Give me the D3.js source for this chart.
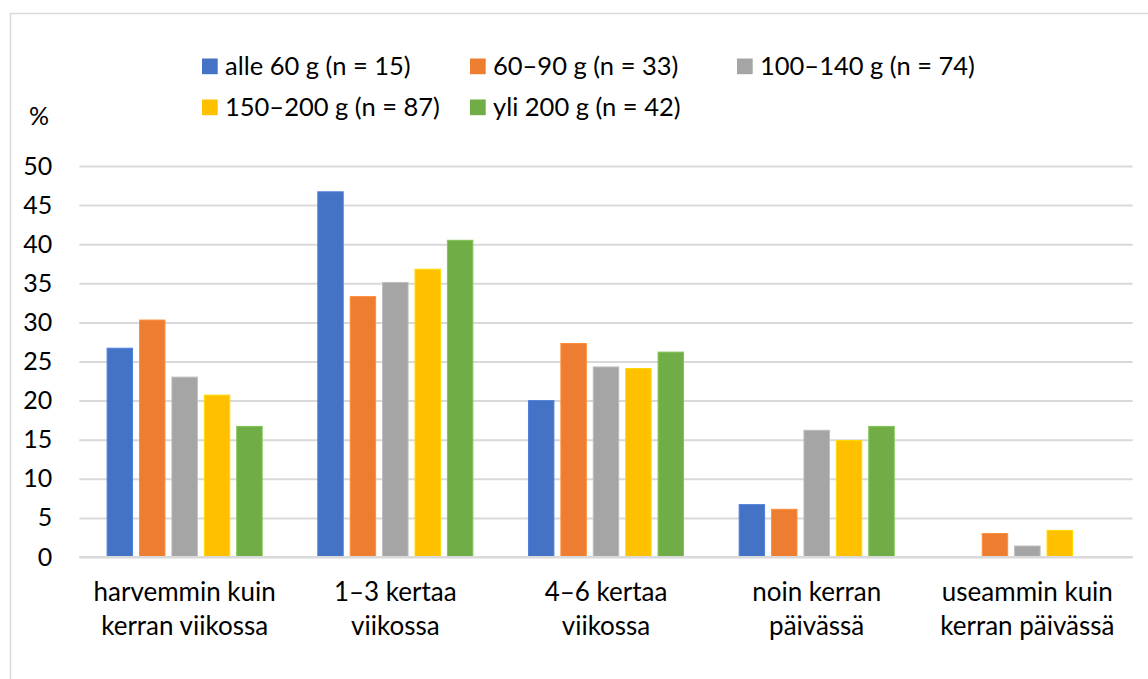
<!DOCTYPE html>
<html>
<head>
<meta charset="utf-8">
<script src="https://cdn.jsdelivr.net/npm/d3@7"></script>
<style>
  html, body { margin: 0; padding: 0; background: #fff; }
  svg { display: block; }
  text { font-family: Lato, "Open Sans", sans-serif; fill: #000; }
</style>
</head>
<body>
<svg id="chart" width="1148" height="679"></svg>
<script>
// Frequency categories (x axis), each label split over two lines
const categories = [
  ["harvemmin kuin", "kerran viikossa"],
  ["1–3 kertaa", "viikossa"],
  ["4–6 kertaa", "viikossa"],
  ["noin kerran", "päivässä"],
  ["useammin kuin", "kerran päivässä"]
];

// Portion-size groups (series)
const seriesNames = [
  "alle 60 g (n = 15)",
  "60–90 g (n = 33)",
  "100–140 g (n = 74)",
  "150–200 g (n = 87)",
  "yli 200 g (n = 42)"
];
const seriesColors = ["#4472c4", "#ed7d31", "#a5a5a5", "#ffc000", "#70ad47"];

// Share of respondents (%) per category, one array per series
const alle60 = [26.7, 46.7, 20.0, 6.7, 0];
const g60to90 = [30.3, 33.3, 27.3, 6.1, 3.0];
const g100to140 = [23.0, 35.1, 24.3, 16.2, 1.4];
const g150to200 = [20.7, 36.8, 24.1, 14.9, 3.4];
const yli200 = [16.7, 40.5, 26.2, 16.7, 0];
const seriesValues = [alle60, g60to90, g100to140, g150to200, yli200];

const yTicks = [0, 5, 10, 15, 20, 25, 30, 35, 40, 45, 50];
const yUnit = "%";

const svg = d3.select("#chart");

// Outer chart frame
svg.append("rect")
  .attr("x", 10.5).attr("y", 13.5)
  .attr("width", 1160).attr("height", 700)
  .attr("fill", "none").attr("stroke", "#d9d9d9").attr("stroke-width", 1.5);

const plot = { left: 79.3, right: 1132.7, top: 166, bottom: 557 };

const x = d3.scaleBand()
  .domain(d3.range(categories.length))
  .range([plot.left, plot.right])
  .paddingInner(0).paddingOuter(0);

const groupWidth = x.bandwidth() * 0.736;
const xs = d3.scaleBand()
  .domain(d3.range(seriesNames.length))
  .range([(x.bandwidth() - groupWidth) / 2, (x.bandwidth() + groupWidth) / 2])
  .paddingInner(0.215).paddingOuter(0);

const y = d3.scaleLinear().domain([0, 50]).range([plot.bottom, plot.top]);

// Horizontal gridlines and value axis labels
const yAxis = d3.axisLeft(y).tickValues(yTicks).tickSize(-(plot.right - plot.left)).tickPadding(27);
const yg = svg.append("g").attr("transform", `translate(${plot.left},0)`).call(yAxis);
yg.select(".domain").remove();
yg.selectAll(".tick line").attr("stroke", "#d9d9d9").attr("stroke-width", 2);
yg.selectAll(".tick text")
  .attr("font-size", 25).attr("fill", "#000")
  .attr("font-family", "Lato, 'Open Sans', sans-serif");

// Bars
const groups = svg.append("g").selectAll("g.cat")
  .data(categories.map((c, i) => i))
  .join("g")
  .attr("class", "cat")
  .attr("transform", i => `translate(${x(i)},0)`);

groups.selectAll("rect")
  .data(i => seriesValues.map((vals, s) => ({ s, v: vals[i] })).filter(d => d.v > 0))
  .join("rect")
  .attr("x", d => xs(d.s))
  .attr("width", xs.bandwidth())
  .attr("y", d => y(d.v))
  .attr("height", d => y(0) - y(d.v))
  .attr("fill", d => seriesColors[d.s])
  .attr("stroke", d => d3.color(seriesColors[d.s]).brighter(0.35))
  .attr("stroke-width", 1);

// Category axis baseline
svg.append("line")
  .attr("x1", plot.left).attr("x2", plot.right)
  .attr("y1", y(0)).attr("y2", y(0))
  .attr("stroke", "#d9d9d9").attr("stroke-width", 2);

// Category labels
const xAxis = d3.axisBottom(x).tickSize(0).tickFormat(() => "");
const xg = svg.append("g").attr("transform", `translate(0,${plot.bottom})`).call(xAxis);
xg.select(".domain").remove();
xg.selectAll(".tick").each(function(i) {
  const t = d3.select(this).append("text")
    .attr("text-anchor", "middle")
    .attr("font-size", 26)
    .attr("fill", "#000");
  categories[i].forEach((line, k) => {
    t.append("tspan").attr("x", 0).attr("y", 44 + k * 33.5).text(line);
  });
});

// Unit label above the value axis
svg.append("text")
  .attr("x", 39).attr("y", 125)
  .attr("text-anchor", "middle")
  .attr("font-size", 25)
  .text(yUnit);

// Legend: two rows, three columns
const legendCols = [202, 470, 737];
const legendRows = [74.5, 115.5];
const legend = svg.append("g");
seriesNames.forEach((name, s) => {
  const col = s % 3, row = Math.floor(s / 3);
  const g = legend.append("g")
    .attr("transform", `translate(${legendCols[col]},${legendRows[row]})`);
  g.append("rect")
    .attr("x", 0).attr("y", -16)
    .attr("width", 15.7).attr("height", 15.7)
    .attr("fill", seriesColors[s]);
  g.append("text")
    .attr("x", 23).attr("y", 0)
    .attr("font-size", 25.5)
    .text(name);
});
</script>
</body>
</html>
